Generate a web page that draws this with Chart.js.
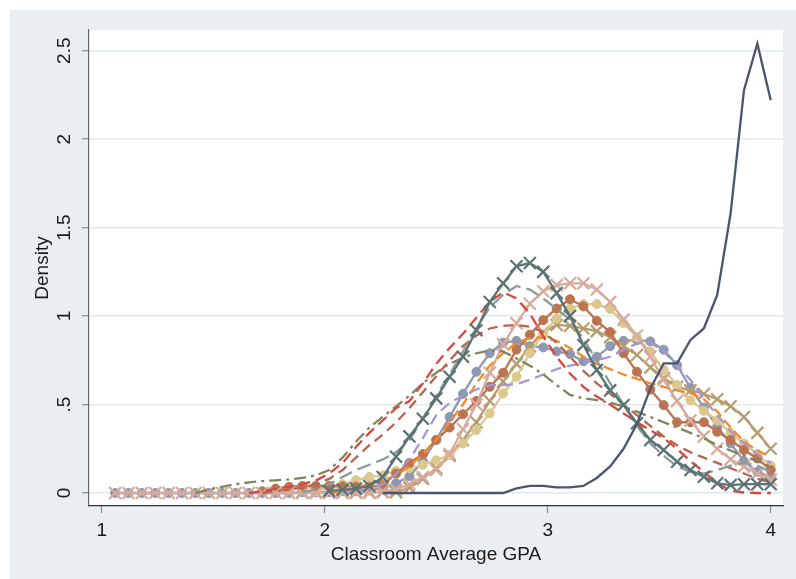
<!DOCTYPE html>
<html><head><meta charset="utf-8">
<script src="https://cdn.jsdelivr.net/npm/chart.js@4.4.0/dist/chart.umd.min.js"></script>
<style>html,body{margin:0;padding:0;background:#fff;}canvas{display:block;}</style>
</head><body>
<canvas id="c" width="796" height="579"></canvas>
<script>
// Grid of evaluation points (Classroom Average GPA)
const gpa = [1.06,1.12,1.18,1.24,1.30,1.36,1.42,1.48,1.54,1.60,1.66,1.72,1.78,1.84,1.90,1.96,2.02,2.08,2.14,2.20,
             2.26,2.32,2.38,2.44,2.50,2.56,2.62,2.68,2.74,2.80,2.86,2.92,2.98,3.04,3.10,3.16,3.22,3.28,3.34,3.40,
             3.46,3.52,3.58,3.64,3.70,3.76,3.82,3.88,3.94,4.00];
const xTicks = [1, 2, 3, 4];
const yTicks = [0, 0.5, 1, 1.5, 2, 2.5];
const yTickLabels = ['0', '.5', '1', '1.5', '2', '2.5'];
const n = null;

// Density series (one per group)
const navyLine = [n,n,n,n,n,n,n,n,n,n,n,n,n,n,n,n,n,n,n,n,
  0,0,0,0,0,0,0,0,0,0,0.026,0.04,0.04,0.032,0.032,0.04,0.085,0.15,0.25,0.39,
  0.59,0.733,0.733,0.865,0.93,1.12,1.58,2.277,2.54,2.22];
const tealX = [n,n,n,n,n,n,n,n,n,n,n,n,n,n,n,n,0.012,0.018,0.025,0.04,
  0.09,0.205,0.32,0.42,0.535,0.657,0.77,0.92,1.08,1.185,1.282,1.30,1.25,1.13,1.0,0.836,0.695,0.58,0.497,0.394,
  0.30,0.243,0.177,0.13,0.092,0.055,0.045,0.05,0.05,0.05];
const redDash = [n,n,n,n,n,n,n,n,n,n,0,0.01,0.025,0.035,0.05,0.07,0.11,0.17,0.26,0.34,
  0.41,0.48,0.52,0.62,0.73,0.82,0.90,0.99,1.08,1.135,1.10,1.015,0.885,0.77,0.675,0.60,0.545,0.50,0.45,0.40,
  0.356,0.31,0.25,0.18,0.12,0.055,0.012,0.003,0,0];
const greyDash = [n,n,n,n,n,n,n,n,n,n,n,n,n,n,0.005,0.02,0.05,0.09,0.13,0.16,
  0.19,0.23,0.30,0.42,0.55,0.67,0.80,0.93,1.05,1.12,1.17,1.15,1.10,1.04,0.98,0.87,0.75,0.62,0.50,0.38,
  0.28,0.21,0.15,0.12,0.11,0.13,0.155,0.17,0.155,0.12];
const brickDash = [n,n,n,n,n,n,n,n,n,n,n,0,0.01,0.02,0.03,0.05,0.08,0.13,0.20,0.27,
  0.33,0.40,0.48,0.57,0.66,0.75,0.83,0.89,0.93,0.945,0.95,0.94,0.91,0.85,0.77,0.69,0.62,0.56,0.50,0.44,
  0.38,0.32,0.27,0.23,0.20,0.17,0.14,0.11,0.08,0.06];
const oliveDashDot = [n,n,n,n,n,n,0,0.02,0.035,0.05,0.06,0.067,0.072,0.077,0.085,0.10,0.13,0.20,0.29,0.37,
  0.43,0.49,0.55,0.62,0.68,0.73,0.765,0.79,0.805,0.80,0.76,0.72,0.67,0.61,0.555,0.535,0.525,0.51,0.49,0.46,
  0.43,0.40,0.37,0.34,0.31,0.27,0.24,0.21,0.18,0.15];
const blueGreyDots = [0,0,0,0,0,0,0,0,0,0,0,0,0,0,0.005,0.005,0.005,0.01,0.01,0.015,
  0.03,0.055,0.095,0.18,0.30,0.43,0.56,0.685,0.79,0.85,0.86,0.83,0.823,0.80,0.785,0.745,0.77,0.83,0.86,0.865,
  0.857,0.81,0.723,0.595,0.483,0.375,0.28,0.18,0.12,0.09];
const lavenderDash = [n,n,n,n,n,n,n,n,n,n,n,n,n,n,n,n,n,0,0.01,0.025,
  0.05,0.11,0.19,0.31,0.44,0.51,0.55,0.585,0.61,0.61,0.615,0.64,0.67,0.70,0.72,0.735,0.75,0.77,0.81,0.845,
  0.85,0.80,0.72,0.64,0.53,0.44,0.35,0.28,0.22,0.17];
const siennaDots = [n,n,n,n,n,n,n,n,n,n,n,0.01,0.025,0.035,0.04,0.04,0.04,0.038,0.036,0.036,
  0.045,0.11,0.17,0.22,0.30,0.37,0.445,0.52,0.60,0.68,0.81,0.895,0.977,1.043,1.095,1.055,0.973,0.91,0.79,0.685,
  0.585,0.497,0.40,0.40,0.40,0.346,0.30,0.243,0.195,0.13];
const tanDots = [n,n,n,n,n,n,n,n,n,n,n,n,n,n,n,0.01,0.03,0.05,0.073,0.09,
  0.10,0.125,0.14,0.16,0.185,0.215,0.28,0.356,0.45,0.563,0.657,0.79,0.90,0.987,1.043,1.068,1.068,1.04,0.96,0.88,
  0.80,0.695,0.61,0.525,0.465,0.41,0.34,0.28,0.22,0.155];
const pinkX = [0,0,0,0,0,0,0,0,0,0,0,0,0,0,0,0,0,0,0,0,
  0.01,0.02,0.05,0.09,0.13,0.22,0.36,0.50,0.68,0.84,0.96,1.07,1.14,1.175,1.185,1.185,1.15,1.08,0.98,0.89,
  0.77,0.64,0.52,0.41,0.32,0.25,0.19,0.15,0.11,0.075];
const khakiX = [n,n,n,n,n,n,n,n,n,n,n,n,n,n,0.005,0.005,0.005,0.005,0.005,0.005,
  0.005,0.005,0.03,0.08,0.14,0.21,0.30,0.40,0.52,0.63,0.73,0.83,0.91,0.95,0.945,0.93,0.915,0.88,0.83,0.78,
  0.71,0.65,0.60,0.58,0.56,0.53,0.49,0.43,0.34,0.25];
const orangeDash = [n,n,n,n,n,n,n,n,n,n,n,n,n,n,n,n,0,0.01,0.03,0.05,
  0.07,0.10,0.15,0.22,0.30,0.40,0.50,0.62,0.72,0.79,0.85,0.875,0.88,0.86,0.82,0.77,0.73,0.70,0.67,0.645,
  0.62,0.60,0.58,0.565,0.53,0.46,0.37,0.29,0.24,0.205];

const FONT = '"Liberation Sans", Arial, Helvetica, sans-serif';
const pts = arr => gpa.map((x, i) => ({x: x, y: arr[i]}));

function ds(label, arr, color, opt) {
  return Object.assign({
    label: label, data: pts(arr), borderColor: color, backgroundColor: color,
    pointBackgroundColor: color, pointBorderColor: color,
    borderWidth: 2.3, tension: 0, pointRadius: 0, spanGaps: false, fill: false
  }, opt || {});
}
const X = {pointStyle: 'crossRot', pointRadius: 8.5, pointBorderWidth: 2.2};
const O = {pointStyle: 'circle', pointRadius: 4.5, pointBorderWidth: 1};

const datasets = [
  ds('g1', navyLine, '#4a5572'),
  ds('g2', tealX, '#5b7473', X),
  ds('g3', redDash, '#d9473c', {borderDash: [11, 6]}),
  ds('g4', greyDash, '#8e9b97', {borderDash: [14, 6]}),
  ds('g5', brickDash, '#b9644f', {borderDash: [10, 6]}),
  ds('g6', oliveDashDot, '#7f855a', {borderDash: [12, 5, 3, 5]}),
  ds('g7', lavenderDash, '#a894cf', {borderDash: [11, 6]}),
  ds('g8', orangeDash, '#f08c28', {borderDash: [10, 5]}),
  ds('g9', pinkX, '#d6ab9c', X),
  ds('g10', siennaDots, '#bb7350', O),
  ds('g11', tanDots, '#dcc78e', O),
  ds('g12', khakiX, '#b59d6e', X),
  ds('g13', blueGreyDots, '#8f98b2', O)
];

const bgPlugin = {
  id: 'bg',
  beforeDraw(chart) {
    const {ctx, chartArea: a} = chart;
    ctx.save();
    ctx.fillStyle = '#ffffff';
    ctx.fillRect(0, 0, chart.width, chart.height);
    ctx.fillStyle = '#e8eef2';
    ctx.fillRect(10, 10, chart.width - 10, chart.height - 10);
    ctx.fillStyle = '#ffffff';
    ctx.fillRect(a.left, a.top, a.right - a.left, a.bottom - a.top);
    ctx.restore();
  },
  afterDraw(chart) {
    const {ctx} = chart;
    const ys = chart.scales.y;
    ctx.save();
    ctx.fillStyle = '#1a1a1a';
    ctx.font = '19px ' + FONT;
    ctx.textAlign = 'center';
    ctx.textBaseline = 'middle';
    yTicks.forEach((v, i) => {
      ctx.save();
      ctx.translate(65, ys.getPixelForValue(v));
      ctx.rotate(-Math.PI / 2);
      ctx.fillText(yTickLabels[i], 0, 0);
      ctx.restore();
    });
    ctx.restore();
  }
};

new Chart(document.getElementById('c'), {
  type: 'line',
  data: {datasets: datasets},
  options: {
    responsive: false, animation: false,
    layout: {padding: {left: 0, top: 30, right: 13, bottom: 0}},
    plugins: {legend: {display: false}, tooltip: {enabled: false}},
    scales: {
      x: {
        type: 'linear', min: 0.943, max: 4.055,
        afterBuildTicks: s => { s.ticks = xTicks.map(v => ({value: v})); },
        afterFit: s => { s.height = 73; },
        grid: {drawOnChartArea: false, tickLength: 7, tickColor: '#8a8a8a', tickWidth: 1.2},
        border: {color: '#333333', width: 1.2},
        ticks: {color: '#1a1a1a', font: {size: 19, family: FONT}, padding: 6, maxRotation: 0, autoSkip: false,
                callback: v => String(v)},
        title: {display: true, text: 'Classroom Average GPA', color: '#1a1a1a',
                font: {size: 19, family: FONT}, padding: {top: 0, bottom: 13}}
      },
      y: {
        type: 'linear', min: -0.0734, max: 2.617,
        afterBuildTicks: s => { s.ticks = yTicks.map(v => ({value: v})); },
        afterFit: s => { s.width = 89; },
        grid: {color: '#e2e9ee', lineWidth: 1.5, tickLength: 7, tickColor: '#8a8a8a', tickWidth: 1.2},
        border: {color: '#666666', width: 1.2},
        ticks: {color: 'rgba(0,0,0,0)', font: {size: 19, family: FONT}},
        title: {display: true, text: 'Density', color: '#1a1a1a',
                font: {size: 19, family: FONT}, padding: {top: 31, bottom: 0}}
      }
    }
  },
  plugins: [bgPlugin]
});
</script>
</body></html>
